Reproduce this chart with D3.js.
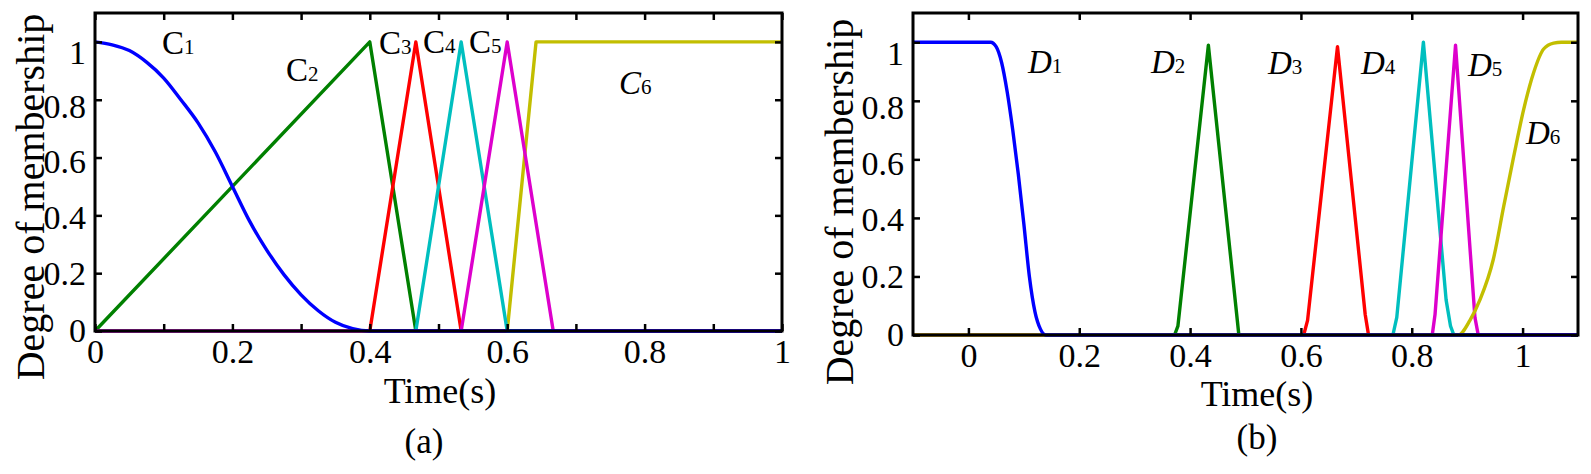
<!DOCTYPE html>
<html>
<head>
<meta charset="utf-8">
<script src="https://cdn.jsdelivr.net/npm/d3@7"></script>
<style>
  body { margin: 0; background: #fff; }
  text { font-family: "Liberation Serif", "DejaVu Serif", serif; fill: #000; }
</style>
</head>
<body>
<div id="chart"></div>
<script>
// ---- panel (a) data ----
const timeC1 = [0, 0.025, 0.05, 0.075, 0.1, 0.125, 0.15, 0.175, 0.2, 0.225, 0.25, 0.275, 0.3, 0.325, 0.35, 0.375, 0.4, 1];
const memC1  = [1, 0.99, 0.97, 0.93, 0.875, 0.8, 0.72, 0.62, 0.5, 0.38, 0.28, 0.195, 0.125, 0.07, 0.03, 0.008, 0, 0];
const timeC2 = [0, 0.4, 0.467, 1];
const memC2  = [0, 1, 0, 0];
const timeC3 = [0, 0.4, 0.467, 0.533, 1];
const memC3  = [0, 0, 1, 0, 0];
const timeC4 = [0, 0.467, 0.533, 0.6, 1];
const memC4  = [0, 0, 1, 0, 0];
const timeC5 = [0, 0.533, 0.6, 0.667, 1];
const memC5  = [0, 0, 1, 0, 0];
const timeC6 = [0, 0.6, 0.642, 1];
const memC6  = [0, 0, 1, 1];

// ---- panel (b) data ----
const timeD1 = [-0.1, 0.04, 0.05, 0.06, 0.07, 0.08, 0.09, 0.1, 0.11, 0.12, 0.13, 0.14, 1.1];
const memD1  = [1, 1, 0.985, 0.93, 0.83, 0.7, 0.55, 0.38, 0.2, 0.08, 0.02, 0, 0];
const timeD2 = [-0.1, 0.372, 0.378, 0.433, 0.488, 1.1];
const memD2  = [0, 0, 0.03, 0.99, 0, 0];
const timeD3 = [-0.1, 0.605, 0.612, 0.666, 0.716, 0.722, 1.1];
const memD3  = [0, 0, 0.05, 0.985, 0.07, 0, 0];
const timeD4 = [-0.1, 0.766, 0.773, 0.821, 0.848, 0.862, 0.87, 0.876, 1.1];
const memD4  = [0, 0, 0.06, 1, 0.42, 0.12, 0.03, 0, 0];
const timeD5 = [-0.1, 0.837, 0.842, 0.879, 0.914, 0.92, 1.1];
const memD5  = [0, 0, 0.07, 0.99, 0.06, 0, 0];
const timeD6 = [-0.1, 0.884, 0.905, 0.923, 0.947, 0.966, 0.984, 1.002, 1.02, 1.038, 1.056, 1.07, 1.1];
const memD6  = [0, 0, 0.05, 0.12, 0.257, 0.44, 0.61, 0.771, 0.897, 0.977, 0.997, 1, 1];

const ticksXa = [0, 0.1, 0.2, 0.3, 0.4, 0.5, 0.6, 0.7, 0.8, 0.9, 1];
const labelsXa = ["0", "", "0.2", "", "0.4", "", "0.6", "", "0.8", "", "1"];
const ticksXb = [0, 0.2, 0.4, 0.6, 0.8, 1];
const labelsXb = ["0", "0.2", "0.4", "0.6", "0.8", "1"];
const ticksY = [0, 0.2, 0.4, 0.6, 0.8, 1];
const labelsY = ["0", "0.2", "0.4", "0.6", "0.8", "1"];

const colors = { blue: "#0000ff", green: "#008000", red: "#ff0000", cyan: "#00bfbf", magenta: "#dd00cc", yellow: "#c2be00" };

const zip = (xs, ys) => xs.map((x, i) => [x, ys[i]]);

const svg = d3.select("#chart").append("svg").attr("width", 1591).attr("height", 474);

function panel(opt) {
  const x = d3.scaleLinear().domain(opt.xDomain).range([opt.left, opt.right]);
  const y = d3.scaleLinear().domain([0, 1.1]).range([opt.bottom, opt.top]);
  const g = svg.append("g");

  const lineLin = d3.line().x(d => x(d[0])).y(d => y(d[1]));
  const lineSmooth = d3.line().x(d => x(d[0])).y(d => y(d[1])).curve(d3.curveMonotoneX);

  opt.series.forEach(s => {
    g.append("path")
      .datum(zip(s.t, s.m))
      .attr("fill", "none")
      .attr("stroke", s.color)
      .attr("stroke-width", 3.4)
      .attr("stroke-linejoin", "round")
      .attr("d", s.smooth ? lineSmooth : lineLin);
  });

  const fmt = (labels, ticks) => v => labels[ticks.indexOf(v)];

  const styleAxis = a => {
    a.attr("font-family", null).attr("font-size", null);
    a.select(".domain").remove();
    a.selectAll(".tick line").attr("stroke", "#000").attr("stroke-width", 2.5);
    a.selectAll(".tick text").attr("font-size", 34);
  };

  g.append("g").attr("transform", `translate(0,${opt.bottom})`)
    .call(d3.axisBottom(x).tickValues(opt.ticksX).tickFormat(fmt(opt.labelsX, opt.ticksX)).tickSize(-7).tickPadding(8))
    .call(styleAxis);
  g.append("g").attr("transform", `translate(0,${opt.top})`)
    .call(d3.axisTop(x).tickValues(opt.ticksX).tickFormat("").tickSize(-7))
    .call(styleAxis);
  const yAx = g.append("g").attr("transform", `translate(${opt.left},0)`)
    .call(d3.axisLeft(y).tickValues(ticksY).tickFormat(fmt(labelsY, ticksY)).tickSize(-7).tickPadding(9))
    .call(styleAxis);
  // labels in the original sit a little below their ticks, more so near the top
  yAx.selectAll(".tick text").attr("y", d => d * d * 11);
  g.append("g").attr("transform", `translate(${opt.right},0)`)
    .call(d3.axisRight(y).tickValues(ticksY).tickFormat("").tickSize(-7))
    .call(styleAxis);

  g.append("rect")
    .attr("x", opt.left).attr("y", opt.top)
    .attr("width", opt.right - opt.left).attr("height", opt.bottom - opt.top)
    .attr("fill", "none").attr("stroke", "#000").attr("stroke-width", 3);

  // axis titles
  g.append("text")
    .attr("transform", `translate(${opt.yLabelX},${opt.yLabelY}) rotate(-90)`)
    .attr("text-anchor", "middle").attr("font-size", 40)
    .text("Degree of membership");
  g.append("text")
    .attr("x", opt.xLabelX).attr("y", opt.xLabelY)
    .attr("text-anchor", "middle").attr("font-size", 36)
    .text("Time(s)");
  g.append("text")
    .attr("x", opt.capX).attr("y", opt.capY)
    .attr("text-anchor", "middle").attr("font-size", 35)
    .text(opt.caption);

  // curve names
  opt.names.forEach(n => {
    const t = g.append("text").attr("x", n.x).attr("y", n.y).attr("font-size", 33)
      .attr("font-style", n.italic ? "italic" : "normal");
    t.append("tspan").text(n.letter);
    t.append("tspan").attr("font-size", 21).attr("font-style", "normal").text(n.sub);
  });
}

panel({
  xDomain: [0, 1], left: 95, right: 782, top: 13, bottom: 331,
  ticksX: ticksXa, labelsX: labelsXa,
  yLabelX: 44, yLabelY: 197, xLabelX: 440, xLabelY: 403, capX: 424, capY: 453, caption: "(a)",
  series: [
    { t: timeC6, m: memC6, color: colors.yellow },
    { t: timeC2, m: memC2, color: colors.green },
    { t: timeC3, m: memC3, color: colors.red },
    { t: timeC4, m: memC4, color: colors.cyan },
    { t: timeC5, m: memC5, color: colors.magenta },
    { t: timeC1, m: memC1, color: colors.blue, smooth: true }
  ],
  names: [
    { letter: "C", sub: "1", x: 162, y: 54 },
    { letter: "C", sub: "2", x: 286, y: 81 },
    { letter: "C", sub: "3", x: 379, y: 54 },
    { letter: "C", sub: "4", x: 423, y: 53 },
    { letter: "C", sub: "5", x: 469, y: 53 },
    { letter: "C", sub: "6", x: 619, y: 94, italic: true }
  ]
});

panel({
  xDomain: [-0.1, 1.1], left: 913, right: 1578, top: 13, bottom: 335,
  ticksX: ticksXb, labelsX: labelsXb,
  yLabelX: 853, yLabelY: 202, xLabelX: 1257, xLabelY: 406, capX: 1257, capY: 449, caption: "(b)",
  series: [
    { t: timeD2, m: memD2, color: colors.green },
    { t: timeD3, m: memD3, color: colors.red },
    { t: timeD4, m: memD4, color: colors.cyan },
    { t: timeD5, m: memD5, color: colors.magenta },
    { t: timeD6, m: memD6, color: colors.yellow, smooth: true },
    { t: timeD1, m: memD1, color: colors.blue, smooth: true }
  ],
  names: [
    { letter: "D", sub: "1", x: 1028, y: 73, italic: true },
    { letter: "D", sub: "2", x: 1151, y: 73, italic: true },
    { letter: "D", sub: "3", x: 1268, y: 74, italic: true },
    { letter: "D", sub: "4", x: 1361, y: 74, italic: true },
    { letter: "D", sub: "5", x: 1468, y: 76, italic: true },
    { letter: "D", sub: "6", x: 1526, y: 144, italic: true }
  ]
});
</script>
</body>
</html>
